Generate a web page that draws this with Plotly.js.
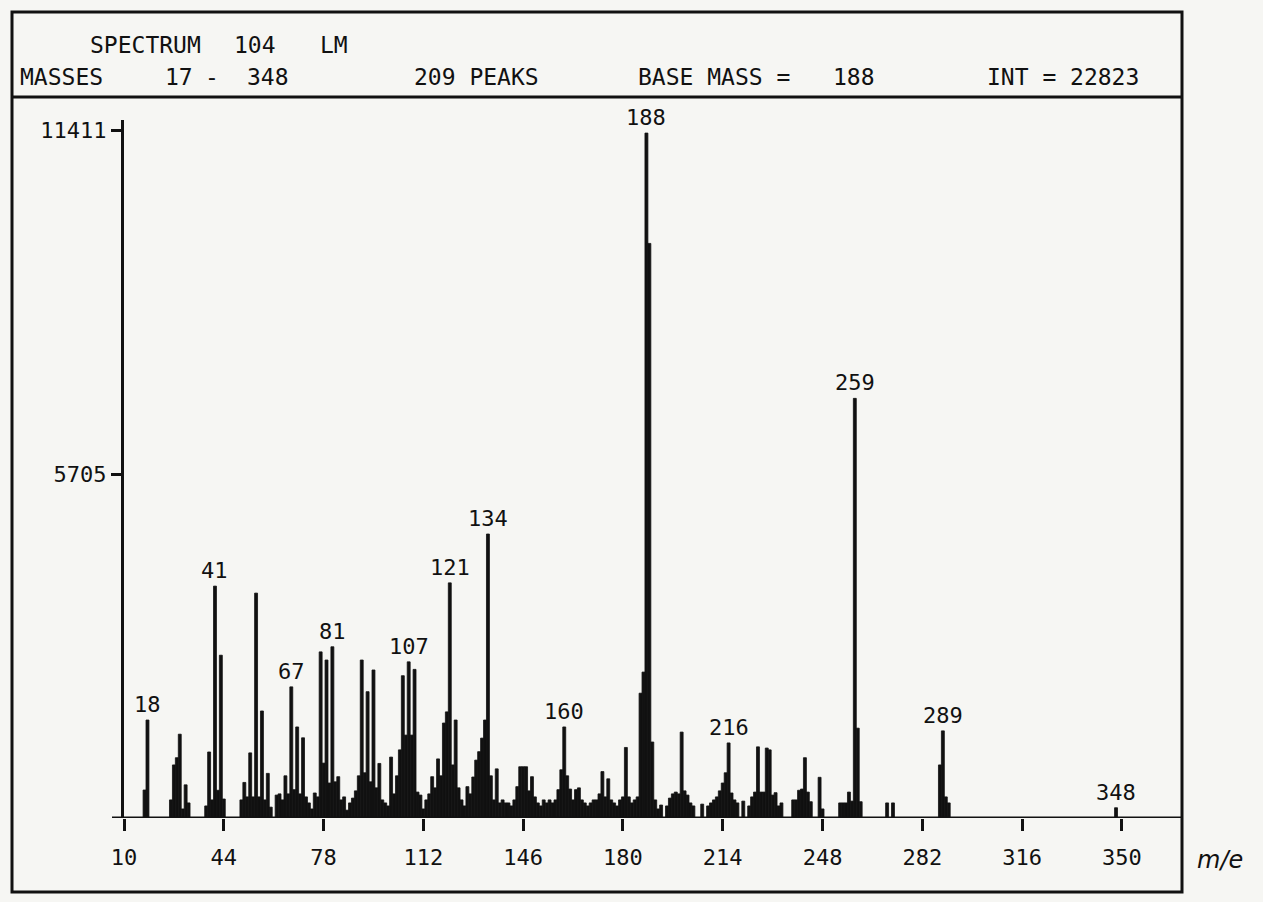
<!DOCTYPE html>
<html>
<head>
<meta charset="utf-8">
<script src="https://cdn.plot.ly/plotly-3.0.1.min.js"></script>
<style>
  html, body { margin: 0; padding: 0; background: #f6f6f3; }
  #chart { width: 1263px; height: 902px; }
</style>
</head>
<body>
<div id="chart"></div>
<script>
// ---- data ----
const masses = [
  17, 18, 26, 27, 28, 29, 30, 31, 32, 38, 39, 40, 41, 42, 43, 44,
  50, 51, 52, 53, 54, 55, 56, 57, 58, 59, 60, 62, 63, 64, 65, 66, 67, 68, 69, 70,
  71, 72, 73, 74, 75, 76, 77, 78, 79, 80, 81, 82, 83, 84, 85, 86, 87, 88, 89, 90,
  91, 92, 93, 94, 95, 96, 97, 98, 99, 100, 101, 102, 103, 104, 105, 106, 107, 108,
  109, 110, 111, 112, 113, 114, 115, 116, 117, 118, 119, 120, 121, 122, 123, 124,
  125, 126, 127, 128, 129, 130, 131, 132, 133, 134, 135, 136, 137, 138, 139, 140,
  141, 142, 143, 144, 145, 146, 147, 148, 149, 150, 151, 152, 153, 154, 155, 156,
  157, 158, 159, 160, 161, 162, 163, 164, 165, 166, 167, 168, 169, 170, 171, 172,
  173, 174, 175, 176, 177, 178, 179, 180, 181, 182, 183, 184, 185, 186, 187, 188,
  189, 190, 191, 192, 193, 195, 196, 197, 198, 199, 200, 201, 202, 203, 204, 207,
  209, 210, 211, 212, 213, 214, 215, 216, 217, 218, 219, 221, 223, 224, 225, 226,
  227, 228, 229, 230, 231, 232, 233, 234, 238, 239, 240, 241, 242, 243, 244, 247,
  248, 254, 255, 256, 257, 258, 259, 260, 261, 270, 272, 288, 289, 290, 291, 348
];
const intensities = [
  464, 1625, 300, 880, 1000, 1390, 150, 550, 250, 200, 1095, 300, 3846, 460, 2700, 315,
  300, 590, 350, 1080, 350, 3730, 350, 1775, 300, 740, 180, 380, 400, 300, 700, 400, 2175, 470, 1510, 400,
  1330, 350, 250, 150, 415, 350, 2755, 910, 2620, 580, 2840, 600, 685, 300, 350, 130, 250, 330, 450, 700,
  2620, 750, 2095, 600, 2455, 500, 905, 300, 250, 200, 1010, 400, 700, 1130, 2360, 1375, 2590, 1375,
  2465, 430, 380, 150, 300, 400, 685, 500, 980, 700, 1575, 1760, 3900, 880, 1625, 500,
  300, 200, 520, 400, 680, 960, 1100, 1325, 1625, 4710, 700, 300, 815, 250, 300, 250,
  250, 200, 300, 520, 850, 850, 850, 450, 685, 350, 250, 200, 300, 250, 300, 250,
  300, 470, 800, 1510, 700, 480, 300, 470, 500, 300, 250, 200, 250, 300, 300, 400,
  770, 350, 650, 300, 250, 200, 300, 350, 1170, 350, 250, 300, 350, 2070, 2420, 11360,
  9530, 1260, 300, 150, 215, 200, 330, 400, 430, 400, 1425, 450, 380, 250, 200, 230,
  200, 250, 300, 350, 450, 580, 750, 1245, 415, 300, 250, 280, 200, 350, 430, 1180,
  430, 430, 1160, 1130, 380, 420, 200, 250, 300, 300, 460, 480, 1000, 430, 270, 675,
  150, 250, 250, 250, 430, 280, 6960, 1490, 270, 250, 250, 880, 1445, 350, 250, 170
];
const labelledMasses = [18, 41, 67, 81, 107, 121, 134, 160, 188, 216, 259, 289, 348];
const xTickValues = [10, 44, 78, 112, 146, 180, 214, 248, 282, 316, 350];
const yTickValues = [5705, 11411];
const yTickLabels = ['5705', '11411'];
const spectrumNo = '104';
const spectrumTag = 'LM';
const massLow = '17';
const massHigh = '348';
const peakCount = '209 PEAKS';
const baseMass = '188';
const baseInt = '22823';

// ---- layout geometry (pixels) ----
const W = 1263, H = 902;
const L = 124, R = 1182, T = 120, B = 818;
const pw = R - L, ph = B - T;
const pxPerMass = 2.935;
const xr = [10, 10 + pw / pxPerMass];
const yr = [0, 11411 * ph / 688];
const px = x => (x - L) / pw;
const py = y => (B - y) / ph;

const FONT = '"DejaVu Sans Mono", "Liberation Mono", monospace';
const fs = 22;

const annotations = [];
// peak labels
labelledMasses.forEach(m => {
  const i = masses.indexOf(m);
  annotations.push({
    x: m, y: intensities[i], xref: 'x', yref: 'y',
    text: String(m), showarrow: false, yanchor: 'bottom', xanchor: 'center',
    yshift: 1, font: {family: FONT, size: fs, color: '#111'}
  });
});
// header tokens
const hdr = [
  ['SPECTRUM', 88, 45], [spectrumNo, 232, 45], [spectrumTag, 318, 45],
  ['MASSES', 18, 77], [massLow, 163, 77], ['-', 203, 77], [massHigh, 245, 77],
  [peakCount, 412, 77], ['BASE MASS =', 636, 77], [baseMass, 831, 77],
  ['INT = ' + baseInt, 985, 77]
];
hdr.forEach(([t, x, y]) => annotations.push({
  x: px(x), y: py(y), xref: 'paper', yref: 'paper', text: t, showarrow: false,
  xanchor: 'left', yanchor: 'middle', font: {family: FONT, size: 23, color: '#111'}
}));
annotations.push({
  x: px(1220), y: py(860), xref: 'paper', yref: 'paper', text: '<i>m/e</i>',
  showarrow: false, xanchor: 'center', yanchor: 'middle',
  font: {family: '"DejaVu Sans", sans-serif', size: 24, color: '#111'}
});

const shapes = [
  // outer frame
  {type: 'rect', xref: 'paper', yref: 'paper', x0: px(12), x1: px(1182), y0: py(892), y1: py(12),
   line: {color: '#111', width: 3}},
  // header divider
  {type: 'line', xref: 'paper', yref: 'paper', x0: px(12), x1: px(1182), y0: py(97), y1: py(97),
   line: {color: '#111', width: 3}},
  // baseline extension to the left of the y axis
  {type: 'line', xref: 'paper', yref: 'y', x0: px(112), x1: 1, y0: 0, y1: 0,
   line: {color: '#111', width: 3}}
];

const trace = {
  type: 'bar', x: masses, y: intensities, width: 1,
  marker: {color: '#111', line: {color: '#111', width: 0.8}},
  hoverinfo: 'x+y'
};

const layout = {
  width: W, height: H,
  margin: {l: L, r: W - R, t: T, b: H - B, pad: 0},
  paper_bgcolor: '#f6f6f3', plot_bgcolor: '#f6f6f3',
  showlegend: false, bargap: 0,
  xaxis: {
    range: xr, tickvals: xTickValues, ticktext: xTickValues.map(String),
    ticks: 'outside', ticklen: 12, tickwidth: 3, tickcolor: '#111',
    showgrid: false, zeroline: false, showline: false,
    ticklabelstandoff: 8,
    tickfont: {family: FONT, size: fs, color: '#111'}
  },
  yaxis: {
    range: yr, tickvals: yTickValues, ticktext: yTickLabels,
    ticks: 'outside', ticklen: 10, tickwidth: 3, tickcolor: '#111',
    showgrid: false, zeroline: false, showline: true, linewidth: 3, linecolor: '#111',
    tickfont: {family: FONT, size: fs, color: '#111'}
  },
  annotations, shapes
};

Plotly.newPlot('chart', [trace], layout, {displayModeBar: false, staticPlot: true});
</script>
</body>
</html>
